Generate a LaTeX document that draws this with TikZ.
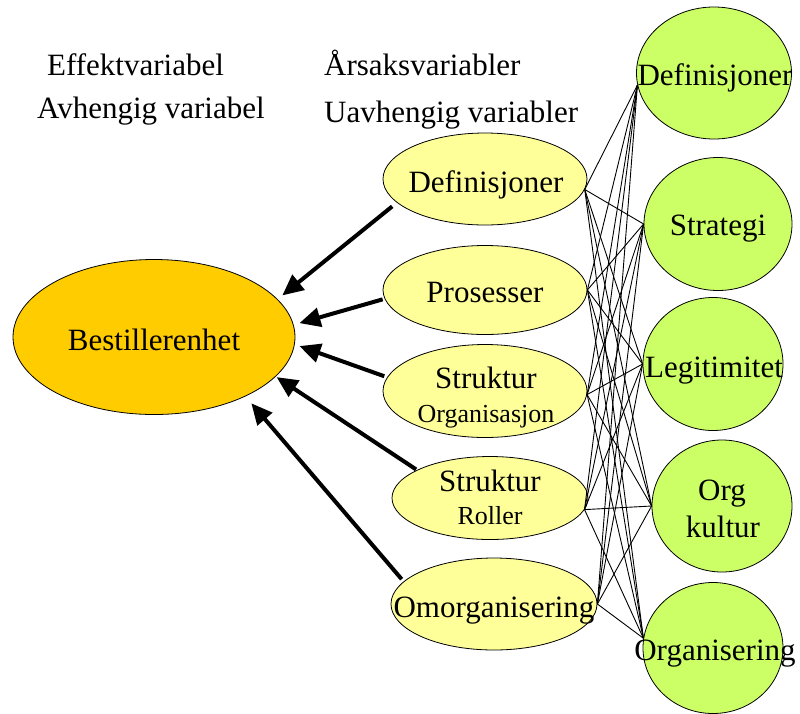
\documentclass[tikz,border=0pt]{standalone}
\usepackage{fontspec}
\setmainfont{Liberation Serif}
\usetikzlibrary{arrows.meta,shapes.geometric}

\definecolor{effectfill}{HTML}{FFCC00}
\definecolor{causefill}{HTML}{FFFF99}
\definecolor{factorfill}{HTML}{CCFF66}

\tikzset{
  shapebase/.style={ellipse, draw=black, line width=0.8pt, inner sep=0pt},
  effect/.style={shapebase, fill=effectfill},
  cause/.style={shapebase, fill=causefill},
  factor/.style={shapebase, fill=factorfill},
  txt/.style={anchor=base, inner sep=0pt, font=\fontsize{31}{36}\selectfont},
  smalltxt/.style={anchor=base, inner sep=0pt, font=\fontsize{26}{30}\selectfont},
  head/.style={anchor=base west, inner sep=0pt, font=\fontsize{31}{36}\selectfont},
  influence/.style={line width=4pt, -{Triangle[length=21pt,width=19pt]}},
  link/.style={line width=0.9pt}
}

\begin{document}
\begin{tikzpicture}[x=1pt, y=-1pt]
\useasboundingbox (0,0) rectangle (800,713);

% column headings
\node[head] (h1) at (47,75) {Effektvariabel};
\node[head] (h2) at (37,118) {Avhengig variabel};
\node[head] (h3) at (324,75) {Årsaksvariabler};
\node[head] (h4) at (324,122) {Uavhengig variabler};

% dependent variable
\node[effect, minimum width=282pt, minimum height=155pt] (best) at (154,337) {};
\node[txt] (bestT) at (154,350) {Bestillerenhet};

% independent variables
\node[cause, minimum width=204pt, minimum height=92pt] (def) at (485,179) {};
\node[txt] (defT) at (486,192) {Definisjoner};

\node[cause, minimum width=204pt, minimum height=89pt] (pros) at (485,290) {};
\node[txt] (prosT) at (485,302) {Prosesser};

\node[cause, minimum width=204pt, minimum height=93pt] (so) at (485,391) {};
\node[txt] (soT1) at (486,388) {Struktur};
\node[smalltxt] (soT2) at (486,422) {Organisasjon};

\node[cause, minimum width=196pt, minimum height=83pt] (sr) at (490,498) {};
\node[txt] (srT1) at (490,491) {Struktur};
\node[smalltxt] (srT2) at (490,524) {Roller};

\node[cause, minimum width=206pt, minimum height=92pt] (om) at (494,604) {};
\node[txt] (omT) at (494,617) {Omorganisering};

% underlying factors
\node[factor, minimum width=155pt, minimum height=132pt] (fdef) at (714,73) {};
\node[txt] (fdefT) at (715,85) {Definisjoner};

\node[factor, minimum width=148pt, minimum height=133pt] (fstr) at (718,224) {};
\node[txt] (fstrT) at (718,235) {Strategi};

\node[factor, minimum width=140pt, minimum height=133pt] (fleg) at (713,364) {};
\node[txt] (flegT) at (714,377) {Legitimitet};

\node[factor, minimum width=140pt, minimum height=132pt] (fkul) at (722,506) {};
\node[txt] (fkulT1) at (722,500) {Org};
\node[txt] (fkulT2) at (723,537) {kultur};

\node[factor, minimum width=140pt, minimum height=131pt] (forg) at (713,648) {};
\node[txt] (forgT) at (715,660) {Organisering};

% every cause linked to every factor
\foreach \s in {def.-6, pros.0, so.-2, sr.-7, om.0}
  \foreach \t in {fdef.189, fstr.180, fleg.180, fkul.180, forg.172}
    \draw[link] (\s) -- (\t);

% influence on the dependent variable
\draw[influence, shorten <=6pt, shorten >=6pt] (def.195.6) -- (best.17.2);
\draw[influence, shorten <=2pt, shorten >=6pt] (pros.185) -- (best.5.9);
\draw[influence, shorten <=3pt, shorten >=5pt] (so.172.7) -- (best.-3.9);
\draw[influence, shorten <=1pt, shorten >=1pt] (sr.159.5) -- (best.-18.7);
\draw[influence, shorten <=3pt, shorten >=9pt] (om.166.8) -- (best.-33.6);
\end{tikzpicture}
\end{document}
